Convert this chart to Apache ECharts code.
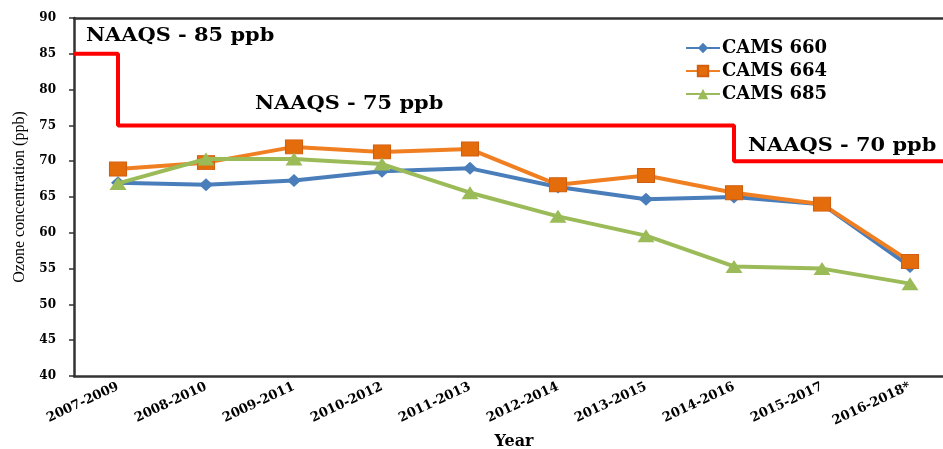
<!DOCTYPE html>
<html><head><meta charset="utf-8">
<script src="https://cdn.jsdelivr.net/npm/echarts@6/dist/echarts.min.js"></script>
<style>html,body{margin:0;padding:0;background:#fff}#c{width:943px;height:449px}</style>
</head><body><div id="c"></div>
<script>
const years = ['2007-2009','2008-2010','2009-2011','2010-2012','2011-2013','2012-2014','2013-2015','2014-2016','2015-2017','2016-2018*'];
const cams660 = [67.0, 66.7, 67.3, 68.6, 69.0, 66.4, 64.7, 65.0, 64.0, 55.3];
const cams664 = [68.9, 69.8, 72.0, 71.3, 71.7, 66.7, 68.0, 65.6, 64.0, 56.0];
const cams685 = [66.9, 70.3, 70.3, 69.6, 65.6, 62.3, 59.6, 55.3, 55.0, 52.9];
const seriesNames = ['CAMS 660', 'CAMS 664', 'CAMS 685'];
const naaqsLevels = [85, 75, 70];
const naaqsChangeAt = ['2007-2009', '2014-2016'];
const yTicks = [40, 45, 50, 55, 60, 65, 70, 75, 80, 85, 90];

// Build the NAAQS step line on a band-index value axis (category i centre = i + 0.5)
const steps = [];
let x0 = 0;
naaqsLevels.forEach((lv, i) => {
  const xEnd = i < naaqsChangeAt.length ? years.indexOf(naaqsChangeAt[i]) + 0.5 : years.length;
  steps.push([x0, lv], [xEnd, lv]);
  x0 = xEnd;
});

const chart = echarts.init(document.getElementById('c'));
const F = 'DejaVu Serif';
const axisCol = '#333';
const labelStyle = {fontFamily: F, fontWeight: 'bold', fontSize: 19, fill: '#000'};
const labelPos = [[86, 38], [255, 106], [748, 148]];

chart.setOption({
  animation: false,
  grid: {left: 74, right: -11, top: 18, bottom: 73, outerBoundsMode: 'none', containLabel: false},
  legend: {
    orient: 'vertical', left: 680, top: 34,
    itemWidth: 34, itemHeight: 13, itemGap: 5,
    textStyle: {fontFamily: F, fontWeight: 'bold', fontSize: 18, color: '#000', padding: [0,0,0,-3]},
    data: seriesNames
  },
  xAxis: [{
    type: 'category', data: years, boundaryGap: true,
    axisLine: {lineStyle: {color: axisCol, width: 2.5}},
    axisTick: {show: false},
    axisLabel: {rotate: 25, margin: 10, fontFamily: F, fontWeight: 'bold', fontSize: 13, color: '#000', interval: 0},
    name: 'Year', nameLocation: 'middle', nameGap: 57,
    nameTextStyle: {fontFamily: F, fontWeight: 'bold', fontSize: 16, color: '#000'}
  }, {
    type: 'value', min: 0, max: years.length, position: 'top',
    axisLine: {show: true, onZero: false, lineStyle: {color: axisCol, width: 2.5}},
    axisTick: {show: false}, axisLabel: {show: false}, splitLine: {show: false}
  }],
  yAxis: {
    type: 'value', min: yTicks[0], max: yTicks[yTicks.length - 1], interval: 5,
    axisLine: {show: true, lineStyle: {color: axisCol, width: 2.5}},
    axisTick: {show: true, length: 5, lineStyle: {color: axisCol, width: 1.5}},
    splitLine: {show: false},
    axisLabel: {margin: 18, fontFamily: F, fontWeight: 'bold', fontSize: 12, color: '#000'},
    name: 'Ozone concentration (ppb)', nameLocation: 'middle', nameGap: 46, nameRotate: 90,
    nameTextStyle: {fontFamily: 'Liberation Serif', fontSize: 16, color: '#000'}
  },
  series: [{
    type: 'line', xAxisIndex: 1, data: steps, symbol: 'none', silent: true,
    lineStyle: {color: '#ff0000', width: 4}, z: 1
  }, {
    name: seriesNames[0], type: 'line', data: cams660,
    symbol: 'diamond', symbolSize: [14, 13],
    itemStyle: {color: '#4a7ebb'}, lineStyle: {color: '#4a7ebb', width: 4}, z: 2
  }, {
    name: seriesNames[1], type: 'line', data: cams664,
    symbol: 'rect', symbolSize: [17, 14],
    itemStyle: {color: '#e46c0a', borderColor: '#d05f10', borderWidth: 1}, lineStyle: {color: '#f07f22', width: 4}, z: 3
  }, {
    name: seriesNames[2], type: 'line', data: cams685,
    symbol: 'triangle', symbolSize: [17, 13],
    itemStyle: {color: '#9bbb59'}, lineStyle: {color: '#9bbb59', width: 4}, z: 4
  }],
  graphic: naaqsLevels.map((lv, i) => ({
    type: 'text', left: labelPos[i][0], top: labelPos[i][1] - 11, scaleX: 1.1,
    style: Object.assign({text: 'NAAQS - ' + lv + ' ppb'}, labelStyle)
  }))
});
</script></body></html>
